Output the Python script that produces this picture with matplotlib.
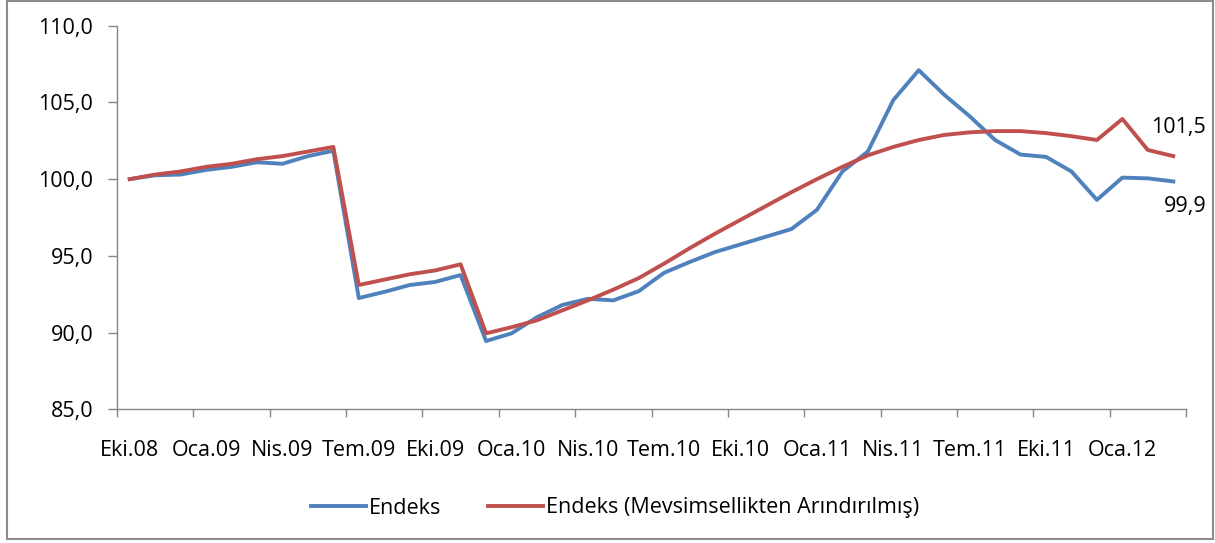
import matplotlib
matplotlib.use("Agg")
import matplotlib.pyplot as plt
from matplotlib.patches import Rectangle
import numpy as np

plt.rcParams['font.family'] = ['Open Sans', 'DejaVu Sans']

# monthly, Eki.08 .. Mar.12
months = ['Eki', 'Kas', 'Ara', 'Oca', 'Şub', 'Mar', 'Nis', 'May', 'Haz', 'Tem', 'Ağu', 'Eyl']
years = [8, 8, 8] + [9] * 12 + [10] * 12 + [11] * 12 + [12] * 3
dates = [f"{months[i % 12]}.{years[i]:02d}" for i in range(42)]

endeks = [100.0, 100.25, 100.3, 100.6, 100.8, 101.1, 101.0, 101.5, 101.85,
          92.25, 92.65, 93.1, 93.3, 93.75, 89.45, 89.95, 91.0, 91.8,
          92.2, 92.1, 92.7, 93.9, 94.6, 95.25, 95.75, 96.25, 96.75, 98.0,
          100.5, 101.8, 105.15, 107.1, 105.5, 104.1, 102.55, 101.6, 101.45,
          100.5, 98.65, 100.1, 100.05, 99.85]
endeks_ma = [100.0, 100.3, 100.5, 100.8, 101.0, 101.3, 101.5, 101.8, 102.1,
             93.1, 93.45, 93.8, 94.05, 94.45, 89.95, 90.35, 90.8, 91.45,
             92.1, 92.8, 93.55, 94.5, 95.5, 96.45, 97.35, 98.25, 99.15, 100.0,
             100.8, 101.55, 102.1, 102.55, 102.88, 103.05, 103.13, 103.13,
             103.0, 102.8, 102.55, 103.92, 101.9, 101.5]
last_labels = ['99,9', '101,5']

blue = '#4F81BD'
red = '#C0504D'
axis_gray = '#868686'

fig = plt.figure(figsize=(12.15, 5.43), dpi=100)
ax = fig.add_axes([117 / 1215, 1 - 409.3 / 543, (1186 - 117) / 1215, (409.3 - 25.7) / 543])

x = np.arange(len(dates))
ax.plot(x, endeks, color=blue, lw=2.8, solid_joinstyle='round', label='Endeks')
ax.plot(x, endeks_ma, color=red, lw=2.8, solid_joinstyle='round',
        label='Endeks (Mevsimsellikten Arındırılmış)')

ax.set_xlim(-0.5, len(dates) - 0.5)
ax.set_ylim(85, 110)
ax.set_yticks(np.arange(85, 110.1, 5))
ax.set_yticklabels([f"{v:.1f}".replace('.', ',') for v in np.arange(85, 110.1, 5)])

ax.set_xticks(np.arange(-0.5, len(dates), 3))
ax.set_xticklabels([])
ax.set_xticks(x[::3], minor=True)
ax.set_xticklabels([dates[i] for i in x[::3]], minor=True)

for s in ['top', 'right']:
    ax.spines[s].set_visible(False)
for s in ['left', 'bottom']:
    ax.spines[s].set_color(axis_gray)
    ax.spines[s].set_linewidth(1.0)

ax.tick_params(axis='y', which='major', direction='out', length=6.5, width=1.0,
               color=axis_gray, pad=10.5, labelsize=15.5, labelcolor='black')
ax.tick_params(axis='x', which='major', direction='out', length=5.8, width=1.0,
               color=axis_gray)
ax.tick_params(axis='x', which='minor', length=0, pad=22, labelsize=15.5,
               labelcolor='black')

ax.annotate(last_labels[1], (x[-1], endeks_ma[-1]), xytext=(33, 29),
            textcoords='offset pixels', ha='right', va='center', fontsize=15.5)
ax.annotate(last_labels[0], (x[-1], endeks[-1]), xytext=(33, -25),
            textcoords='offset pixels', ha='right', va='center', fontsize=15.5)

fig.legend(loc='center', bbox_to_anchor=(615 / 1215, 1 - 508 / 543), ncol=2,
           frameon=False, fontsize=15.5, handlelength=2.55, handletextpad=0.12,
           columnspacing=2.2)

fig.patches.append(Rectangle((7 / 1215, 4 / 543), 1206 / 1215, 538 / 543,
                             transform=fig.transFigure, fill=False,
                             edgecolor='#8c8c8c', lw=1.5))

fig.savefig('out.png', dpi=100)
